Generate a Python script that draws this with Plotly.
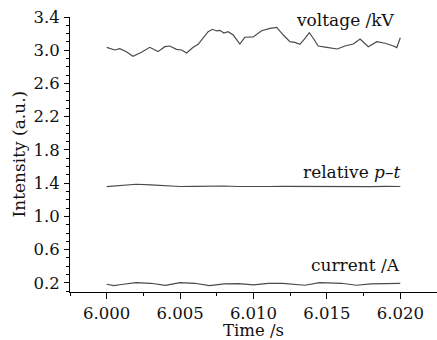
import plotly.graph_objects as go

# ---- data ----
voltage_t = [6.00000, 6.00055, 6.00089, 6.00134, 6.00179, 6.00237, 6.00293, 6.00350,
             6.00396, 6.00430, 6.00475, 6.00510, 6.00544, 6.00589, 6.00623, 6.00657,
             6.00691, 6.00721, 6.00748, 6.00771, 6.00798, 6.00827, 6.00862, 6.00907,
             6.00941, 6.00998, 6.01055, 6.01112, 6.01158, 6.01203, 6.01248, 6.01282,
             6.01316, 6.01351, 6.01380, 6.01407, 6.01441, 6.01499, 6.01571, 6.01623,
             6.01680, 6.01726, 6.01782, 6.01840, 6.01896, 6.01953, 6.01976, 6.02000]
voltage_v = [3.035, 3.003, 3.019, 2.983, 2.927, 2.975, 3.035, 2.983,
             3.043, 3.051, 3.011, 3.003, 2.967, 3.035, 3.071, 3.144,
             3.223, 3.252, 3.232, 3.240, 3.207, 3.223, 3.183, 3.075,
             3.156, 3.160, 3.235, 3.264, 3.276, 3.183, 3.103, 3.095,
             3.071, 3.144, 3.211, 3.144, 3.051, 3.035, 3.015, 3.051,
             3.075, 3.135, 3.043, 3.103, 3.084, 3.051, 3.031, 3.150]

pt_t = [6.0000, 6.0010, 6.0020, 6.0030, 6.0040, 6.0050, 6.0060, 6.0070, 6.0080,
        6.0090, 6.0100, 6.0110, 6.0120, 6.0130, 6.0140, 6.0150, 6.0160, 6.0170,
        6.0180, 6.0190, 6.0200]
pt_v = [1.358, 1.375, 1.387, 1.380, 1.370, 1.360, 1.362, 1.368, 1.366, 1.360,
        1.356, 1.360, 1.362, 1.360, 1.358, 1.362, 1.356, 1.360, 1.358, 1.362, 1.360]

cur_t = [6.0000, 6.0005, 6.0010, 6.0020, 6.0030, 6.0040, 6.0050, 6.0060, 6.0070,
         6.0080, 6.0090, 6.0100, 6.0110, 6.0120, 6.0135, 6.0145, 6.0160, 6.0170,
         6.0180, 6.0190, 6.0200]
cur_v = [0.183, 0.167, 0.180, 0.203, 0.195, 0.171, 0.203, 0.195, 0.167, 0.187,
         0.191, 0.175, 0.195, 0.195, 0.171, 0.203, 0.195, 0.171, 0.187, 0.195, 0.195]

labels = ["voltage /kV", "relative <i>p</i>–<i>t</i>", "current /A"]
label_y = [3.364, 1.535, 0.416]
label_x = [6.0198, 6.0202, 6.0201]

x_title = "Time /s"
y_title = "Intensity (a.u.)"

FONT = "DejaVu Serif"
LINE = "#4a4a4a"
TXT = "#111"

fig = go.Figure()
for t, v in [(voltage_t, voltage_v), (pt_t, pt_v), (cur_t, cur_v)]:
    fig.add_trace(go.Scatter(x=t, y=v, mode="lines",
                             line=dict(color=LINE, width=1.2),
                             showlegend=False, hoverinfo="skip"))

for txt, xv, yv in zip(labels, label_x, label_y):
    fig.add_annotation(x=xv, y=yv, xref="x", yref="y", text=txt,
                       showarrow=False, xanchor="right", yanchor="middle",
                       font=dict(family=FONT, size=17, color=TXT))

# axis titles placed as annotations for precise placement
fig.add_annotation(x=0.5, y=0, xref="paper", yref="paper", text=x_title,
                   showarrow=False, xanchor="center", yanchor="top", yshift=-28,
                   borderpad=0,
                   font=dict(family=FONT, size=16.5, color=TXT))
fig.add_annotation(x=0, y=0.5, xref="paper", yref="paper", text=y_title,
                   showarrow=False, xanchor="center", yanchor="middle", xshift=-52,
                   textangle=-90, font=dict(family=FONT, size=17, color=TXT))

fig.update_layout(
    width=437, height=340,
    margin=dict(l=70, r=0, t=17, b=48),
    paper_bgcolor="white", plot_bgcolor="white",
    font=dict(family=FONT, size=16, color=TXT),
)
fig.update_xaxes(
    range=[5.9975, 6.0225], tick0=6.0, dtick=0.005, tickformat=".3f",
    showline=True, linecolor="black", linewidth=1, showgrid=False, zeroline=False,
    ticks="outside", ticklen=6, tickcolor="black",
    minor=dict(dtick=0.0025, ticks="outside", ticklen=3, tickcolor="black", showgrid=False),
    tickfont=dict(size=16.5), ticklabelstandoff=0,
)
fig.update_yaxes(
    range=[0.09, 3.4], tick0=0.2, dtick=0.4, tickformat=".1f",
    showline=True, linecolor="black", linewidth=1, showgrid=False, zeroline=False,
    ticks="outside", ticklen=5, tickcolor="black",
    minor=dict(dtick=0.1, tick0=0.0, ticks="outside", ticklen=3, tickcolor="black", showgrid=False),
    tickfont=dict(size=16.5), ticklabelstandoff=1,
)

fig.write_html("out.html", config={"displayModeBar": False},
               post_script="document.body.style.margin='0';document.body.style.padding='0';")
